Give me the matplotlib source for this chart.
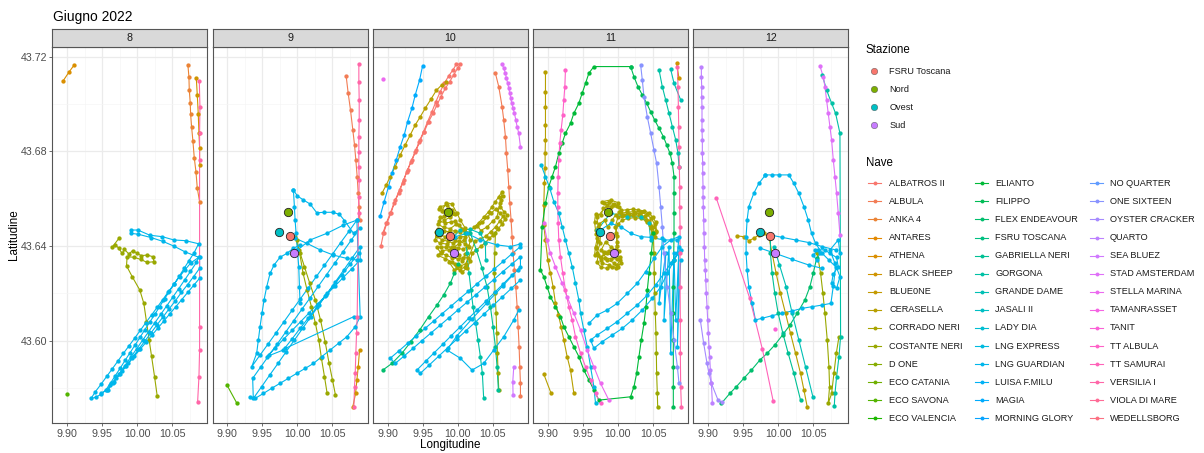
import numpy as np
import matplotlib.pyplot as plt

plt.rcParams['font.family'] = ['Liberation Sans', 'DejaVu Sans']

ships = ["ALBATROS II", "ALBULA", "ANKA 4", "ANTARES", "ATHENA", "BLACK SHEEP",
         "BLUE0NE", "CERASELLA", "CORRADO NERI", "COSTANTE NERI", "D ONE",
         "ECO CATANIA", "ECO SAVONA", "ECO VALENCIA", "ELIANTO", "FILIPPO",
         "FLEX ENDEAVOUR", "FSRU TOSCANA", "GABRIELLA NERI", "GORGONA",
         "GRANDE DAME", "JASALI II", "LADY DIA", "LNG EXPRESS", "LNG GUARDIAN",
         "LUISA F.MILU", "MAGIA", "MORNING GLORY", "NO QUARTER", "ONE SIXTEEN",
         "OYSTER CRACKER", "QUARTO", "SEA BLUEZ", "STAD AMSTERDAM",
         "STELLA MARINA", "TAMANRASSET", "TANIT", "TT ALBULA", "TT SAMURAI",
         "VERSILIA I", "VIOLA DI MARE", "WEDELLSBORG"]

stations = ["FSRU Toscana", "Nord", "Ovest", "Sud"]
station_lon = [9.9890, 9.9865, 9.9740, 9.9950]
station_lat = [43.6443, 43.6542, 43.6457, 43.6368]

days = [8, 9, 10, 11, 12]

# ---------------- day 8 ----------------
p8_athena = [(9.8943, 43.7097), (9.9024, 43.7133), (9.9105, 43.7166)]
p8_anka = [(10.0724, 43.7163), (10.0738, 43.7114), (10.0743, 43.7059), (10.0757, 43.7003),
           (10.0762, 43.6958), (10.0776, 43.6903), (10.0795, 43.6843), (10.0814, 43.6773),
           (10.0838, 43.6714), (10.0857, 43.6645), (10.0890, 43.6587)]
p8_blacksheep = [(10.0843, 43.7110), (10.0857, 43.7039), (10.0871, 43.6958), (10.0881, 43.6876),
                 (10.0890, 43.6815), (10.0890, 43.6743)]
p8_versilia = [(10.0886, 43.7097), (10.0895, 43.6989), (10.0890, 43.6876), (10.0890, 43.6763),
               (10.0890, 43.6058), (10.0890, 43.5960), (10.0881, 43.5847), (10.0862, 43.5741)]
p8_costante = [(9.9748, 43.6435), (9.9643, 43.6394), (9.9690, 43.6404), (9.9738, 43.6390),
               (9.9786, 43.6368), (9.9819, 43.6385), (9.9881, 43.6366), (9.9938, 43.6380),
               (10.0000, 43.6368), (10.0057, 43.6359), (10.0143, 43.6361), (10.0229, 43.6354),
               (10.0238, 43.6333), (10.0143, 43.6330), (10.0048, 43.6343), (9.9952, 43.6352),
               (9.9857, 43.6354), (9.9848, 43.6316), (9.9929, 43.6270), (10.0038, 43.6213),
               (10.0095, 43.6157), (10.0133, 43.6079), (10.0171, 43.6002), (10.0205, 43.5934),
               (10.0248, 43.5847), (10.0286, 43.5765)]
p8_ecosavona = [(9.9000, 43.5772)]
p8_lng_a = [(9.9914, 43.6467), (10.0010, 43.6467), (10.0181, 43.6445), (10.0357, 43.6439),
            (10.0524, 43.6425), (10.0690, 43.6422), (10.0876, 43.6409),
            (10.0810, 43.6370), (10.0740, 43.6338), (10.0670, 43.6305), (10.0600, 43.6272),
            (10.0530, 43.6240), (10.0460, 43.6208), (10.0390, 43.6176), (10.0320, 43.6143),
            (10.0250, 43.6110), (10.0180, 43.6078), (10.0110, 43.6046), (10.0040, 43.6013),
            (9.9970, 43.5981), (9.9900, 43.5949), (9.9830, 43.5917), (9.9760, 43.5884),
            (9.9690, 43.5852), (9.9620, 43.5820), (9.9550, 43.5790), (9.9480, 43.5772),
            (9.9410, 43.5760), (9.9343, 43.5755),
            (9.9405, 43.5784), (9.9485, 43.5815), (9.9565, 43.5848), (9.9645, 43.5880),
            (9.9725, 43.5913), (9.9805, 43.5946), (9.9885, 43.5978), (9.9965, 43.6010),
            (10.0045, 43.6043), (10.0125, 43.6076), (10.0205, 43.6108), (10.0285, 43.6140),
            (10.0365, 43.6173), (10.0445, 43.6206), (10.0525, 43.6238), (10.0605, 43.6270),
            (10.0685, 43.6300), (10.0765, 43.6328), (10.0890, 43.6354),
            (10.0890, 43.6305), (10.0805, 43.6270), (10.0718, 43.6236), (10.0630, 43.6203),
            (10.0545, 43.6168), (10.0456, 43.6134), (10.0370, 43.6100), (10.0282, 43.6066),
            (10.0195, 43.6031), (10.0108, 43.5997), (10.0020, 43.5963), (9.9933, 43.5928),
            (9.9845, 43.5894), (9.9758, 43.5860), (9.9670, 43.5825), (9.9581, 43.5791),
            (9.9619, 43.5812), (9.9705, 43.5843), (9.9790, 43.5872), (9.9873, 43.5903),
            (9.9958, 43.5933), (10.0043, 43.5963), (10.0128, 43.5993), (10.0212, 43.6023),
            (10.0297, 43.6053), (10.0382, 43.6083), (10.0466, 43.6113), (10.0551, 43.6143),
            (10.0636, 43.6173), (10.0720, 43.6203), (10.0805, 43.6233), (10.0890, 43.6263)]
p8_lng_b = [(9.9914, 43.6453), (10.0019, 43.6449), (10.0200, 43.6435), (10.0367, 43.6419),
            (10.0524, 43.6399), (10.0681, 43.6375), (10.0876, 43.6352),
            (10.0845, 43.6330), (10.0760, 43.6292), (10.0675, 43.6255), (10.0590, 43.6218),
            (10.0505, 43.6182), (10.0420, 43.6146), (10.0335, 43.6110), (10.0250, 43.6074),
            (10.0165, 43.6038), (10.0080, 43.6002), (9.9995, 43.5966), (9.9910, 43.5930),
            (9.9825, 43.5894), (9.9740, 43.5858), (9.9655, 43.5822), (9.9570, 43.5790),
            (9.9490, 43.5778)]

# ---------------- day 9 ----------------
p9_albula = [(10.0695, 43.7118), (10.0724, 43.7045), (10.0757, 43.6974), (10.0790, 43.6890),
             (10.0814, 43.6827), (10.0833, 43.6763), (10.0852, 43.6693), (10.0867, 43.6622),
             (10.0881, 43.6566), (10.0890, 43.6509)]
p9_versilia = [(10.0876, 43.7168), (10.0876, 43.7094), (10.0881, 43.7017), (10.0881, 43.6932),
               (10.0876, 43.6862), (10.0876, 43.6798), (10.0876, 43.6735), (10.0881, 43.6678),
               (10.0876, 43.6608), (10.0871, 43.6538), (10.0852, 43.6101), (10.0843, 43.6030),
               (10.0833, 43.5946), (10.0824, 43.5861), (10.0814, 43.5805), (10.0805, 43.5720)]
p9_blacksheep = [(10.0886, 43.5960), (10.0867, 43.5889), (10.0848, 43.5833), (10.0829, 43.5776),
                 (10.0790, 43.5720)]
p9_costante_a = [(9.9971, 43.6439), (10.0033, 43.6368), (10.0081, 43.6284), (10.0138, 43.6213),
                 (10.0200, 43.6143), (10.0257, 43.6072), (10.0305, 43.6002), (10.0343, 43.5924),
                 (10.0386, 43.5847), (10.0424, 43.5776)]
p9_costante_b = [(10.0543, 43.5769), (10.0500, 43.5833), (10.0452, 43.5903), (10.0395, 43.5995),
                 (10.0329, 43.6087), (10.0257, 43.6171), (10.0176, 43.6242), (10.0100, 43.6312),
                 (10.0024, 43.6383), (9.9995, 43.6425)]
p9_ecosavona = [(9.8995, 43.5812), (9.9138, 43.5734)]
p9_lng_a = [(9.9943, 43.6636), (10.0000, 43.6611), (10.0086, 43.6594), (10.0181, 43.6577),
            (10.0276, 43.6540), (10.0381, 43.6542), (10.0505, 43.6542), (10.0600, 43.6533),
            (10.0671, 43.6507), (10.0800, 43.6453),
            (10.0886, 43.6474), (10.0769, 43.6425), (10.0652, 43.6376), (10.0534, 43.6328),
            (10.0417, 43.6279), (10.0300, 43.6230), (10.0183, 43.6181), (10.0066, 43.6133),
            (9.9948, 43.6084), (9.9831, 43.6035), (9.9714, 43.5986), (9.9597, 43.5938),
            (9.9479, 43.5889), (9.9362, 43.5840),
            (9.9371, 43.5755), (9.9488, 43.5804), (9.9605, 43.5854), (9.9723, 43.5903),
            (9.9840, 43.5953), (9.9957, 43.6002), (10.0074, 43.6051), (10.0192, 43.6101),
            (10.0309, 43.6150), (10.0426, 43.6200), (10.0543, 43.6249), (10.0661, 43.6298),
            (10.0778, 43.6348), (10.0895, 43.6397),
            (10.0895, 43.6340), (10.0774, 43.6303), (10.0653, 43.6266), (10.0531, 43.6229),
            (10.0410, 43.6192), (10.0289, 43.6155), (10.0168, 43.6117), (10.0047, 43.6080),
            (9.9926, 43.6043), (9.9804, 43.6006), (9.9683, 43.5969), (9.9562, 43.5932),
            (9.9800, 43.5960), (9.9919, 43.6005), (10.0038, 43.6051), (10.0157, 43.6096),
            (10.0276, 43.6141), (10.0395, 43.6187), (10.0514, 43.6232), (10.0633, 43.6277),
            (10.0752, 43.6323), (10.0871, 43.6368)]
p9_lng_b = [(9.9943, 43.6636), (9.9957, 43.6566), (9.9967, 43.6509), (9.9981, 43.6453),
            (10.0000, 43.6383), (10.0019, 43.6312), (10.0029, 43.6227), (10.0038, 43.6157)]
p9_lng_c = [(10.0038, 43.6404), (9.9943, 43.6390), (9.9848, 43.6368), (9.9752, 43.6352),
            (9.9667, 43.6319), (9.9610, 43.6284), (9.9562, 43.6227), (9.9524, 43.6171),
            (9.9495, 43.6115), (9.9467, 43.6058), (9.9443, 43.6002), (9.9419, 43.5946),
            (9.9348, 43.5889), (9.9463, 43.5937), (9.9579, 43.5984), (9.9694, 43.6032),
            (9.9810, 43.6080), (9.9925, 43.6128), (10.0040, 43.6175), (10.0156, 43.6223),
            (10.0271, 43.6271), (10.0386, 43.6318), (10.0502, 43.6366), (10.0617, 43.6414),
            (10.0733, 43.6461), (10.0848, 43.6509),
            (10.0895, 43.6101), (10.0824, 43.6058), (10.0705, 43.6016), (10.0586, 43.5988),
            (10.0467, 43.5960), (10.0348, 43.5932), (10.0229, 43.5903), (10.0110, 43.5882),
            (9.9990, 43.5861), (9.9871, 43.5840), (9.9752, 43.5819), (9.9633, 43.5798),
            (9.9514, 43.5776), (9.9395, 43.5755), (9.9324, 43.5762)]
p9_lng_d = [(9.9829, 43.5967), (10.0805, 43.6101)]
p9_lng_e = [(9.9967, 43.6432), (10.0133, 43.6411), (10.0324, 43.6383), (10.0514, 43.6361),
            (10.0705, 43.6347), (10.0848, 43.6340)]
p9_lng_f = [(10.0000, 43.6383), (10.0181, 43.6425), (10.0419, 43.6453), (10.0657, 43.6488),
            (10.0848, 43.6509)]

# ---------------- day 10 ----------------
p10_stad = [(10.0633, 43.7168), (10.0657, 43.7151), (10.0681, 43.7130), (10.0695, 43.7108),
            (10.0714, 43.7087), (10.0729, 43.7066), (10.0743, 43.7045), (10.0757, 43.7024),
            (10.0771, 43.7003), (10.0790, 43.6982), (10.0810, 43.6960), (10.0829, 43.6932),
            (10.0848, 43.6904), (10.0871, 43.6876), (10.0895, 43.6819)]
p10_stella = [(9.8933, 43.7104)]
p10_seabluez = [(10.0800, 43.5889), (10.0786, 43.5826), (10.0790, 43.5769)]
p10_magia = [(9.8895, 43.6526), (9.8952, 43.6587), (9.9014, 43.6650), (9.9062, 43.6707),
             (9.9124, 43.6763), (9.9181, 43.6819), (9.9238, 43.6869), (9.9286, 43.6925),
             (9.9348, 43.6982), (9.9395, 43.7038), (9.9457, 43.7101), (9.9500, 43.7161)]
p10_cerasella = [(9.8919, 43.6622), (9.8981, 43.6657), (9.9038, 43.6693), (9.9110, 43.6735),
                 (9.9181, 43.6784), (9.9252, 43.6827), (9.9324, 43.6869), (9.9395, 43.6911),
                 (9.9467, 43.6946), (9.9538, 43.6982), (9.9619, 43.7020), (9.9695, 43.7057),
                 (9.9771, 43.7080), (9.9838, 43.7094)]
p10_albatros = [(9.8905, 43.6399), (9.8943, 43.6453), (9.8990, 43.6495), (9.9048, 43.6538),
                (9.9095, 43.6580), (9.9157, 43.6622), (9.9214, 43.6664), (9.9276, 43.6714),
                (9.9333, 43.6756), (9.9395, 43.6798), (9.9452, 43.6841), (9.9514, 43.6883),
                (9.9571, 43.6925), (9.9633, 43.6967), (9.9690, 43.7010), (9.9752, 43.7052),
                (9.9810, 43.7087), (9.9871, 43.7118), (9.9933, 43.7144), (9.9981, 43.7168),
                (10.0038, 43.7168), (10.0000, 43.7151), (9.9943, 43.7123), (9.9886, 43.7094),
                (9.9824, 43.7066), (9.9762, 43.7031), (9.9705, 43.6996), (9.9648, 43.6960),
                (9.9586, 43.6925), (9.9524, 43.6883), (9.9467, 43.6848), (9.9410, 43.6805),
                (9.9348, 43.6763), (9.9286, 43.6721), (9.9229, 43.6679), (9.9171, 43.6636),
                (9.9110, 43.6594), (9.9038, 43.6538), (9.8981, 43.6495), (9.8933, 43.6453)]
p10_albula = [(10.0538, 43.7130), (10.0586, 43.7073), (10.0633, 43.6989), (10.0657, 43.6932),
              (10.0681, 43.6862), (10.0695, 43.6791), (10.0714, 43.6721), (10.0729, 43.6650),
              (10.0743, 43.6580), (10.0762, 43.6509), (10.0776, 43.6439), (10.0790, 43.6368),
              (10.0810, 43.6298), (10.0829, 43.6227), (10.0848, 43.6143), (10.0862, 43.6058),
              (10.0876, 43.5974), (10.0886, 43.5889), (10.0895, 43.5819), (10.0895, 43.5765)]
p10_corrado = [(9.9752, 43.6566), (9.9848, 43.6573), (9.9919, 43.6552), (9.9967, 43.6535),
               (9.9895, 43.6521), (9.9810, 43.6509), (9.9752, 43.6523), (9.9719, 43.6492),
               (9.9800, 43.6478), (9.9895, 43.6473), (9.9981, 43.6492), (10.0062, 43.6473),
               (10.0133, 43.6453), (10.0086, 43.6425), (10.0014, 43.6408), (9.9943, 43.6394),
               (9.9871, 43.6383), (9.9776, 43.6380), (9.9719, 43.6360), (9.9824, 43.6346),
               (9.9919, 43.6332), (9.9990, 43.6309), (10.0062, 43.6290), (10.0133, 43.6305),
               (10.0181, 43.6337), (10.0205, 43.6368), (10.0267, 43.6383), (10.0333, 43.6399),
               (10.0395, 43.6414), (10.0452, 43.6432), (10.0505, 43.6446), (10.0571, 43.6470),
               (10.0633, 43.6492), (10.0681, 43.6515), (10.0705, 43.6531), (10.0657, 43.6545),
               (10.0610, 43.6566), (10.0619, 43.6594), (10.0633, 43.6629), (10.0586, 43.6608),
               (10.0538, 43.6587), (10.0490, 43.6566), (10.0443, 43.6545), (10.0371, 43.6521),
               (10.0300, 43.6498), (10.0229, 43.6478), (10.0162, 43.6456), (10.0105, 43.6439),
               (10.0038, 43.6439), (9.9967, 43.6425), (9.9895, 43.6432), (9.9824, 43.6439),
               (9.9752, 43.6446), (9.9695, 43.6459), (9.9681, 43.6425), (9.9752, 43.6411),
               (9.9848, 43.6408), (9.9943, 43.6374), (10.0014, 43.6360), (10.0062, 43.6337),
               (10.0110, 43.6365), (10.0157, 43.6394), (10.0181, 43.6425), (10.0110, 43.6474),
               (10.0038, 43.6509), (9.9990, 43.6538), (9.9919, 43.6577), (9.9838, 43.6583),
               (9.9776, 43.6549), (9.9848, 43.6535)]
p10_corrado_b = [(9.9730, 43.6555), (9.9790, 43.6548), (9.9860, 43.6556), (9.9930, 43.6540),
                 (9.9870, 43.6530), (9.9800, 43.6527), (9.9740, 43.6505), (9.9820, 43.6497),
                 (9.9900, 43.6500), (9.9960, 43.6505), (10.0020, 43.6488), (10.0090, 43.6466),
                 (10.0030, 43.6460), (9.9960, 43.6465), (9.9880, 43.6460), (9.9800, 43.6462),
                 (9.9720, 43.6470), (9.9700, 43.6440), (9.9780, 43.6425), (9.9860, 43.6420),
                 (9.9940, 43.6412), (10.0020, 43.6420), (10.0100, 43.6410), (10.0150, 43.6400),
                 (10.0080, 43.6385), (10.0000, 43.6390), (9.9920, 43.6395), (9.9840, 43.6395),
                 (9.9760, 43.6395), (9.9700, 43.6395), (9.9760, 43.6370), (9.9840, 43.6360),
                 (9.9920, 43.6350), (10.0000, 43.6345), (10.0080, 43.6350), (10.0150, 43.6350),
                 (10.0120, 43.6325), (10.0040, 43.6315), (9.9960, 43.6325), (9.9880, 43.6330),
                 (9.9950, 43.6300), (10.0030, 43.6300), (10.0100, 43.6310), (10.0250, 43.6420),
                 (10.0320, 43.6430), (10.0400, 43.6440), (10.0470, 43.6460), (10.0540, 43.6480),
                 (10.0600, 43.6505), (10.0650, 43.6525), (10.0600, 43.6540), (10.0540, 43.6555),
                 (10.0480, 43.6540), (10.0420, 43.6520), (10.0350, 43.6500), (10.0280, 43.6485),
                 (10.0330, 43.6465), (10.0420, 43.6480), (10.0500, 43.6505), (10.0560, 43.6520),
                 (10.0600, 43.6580), (10.0640, 43.6610)]
p10_costante = [(10.0538, 43.6453), (10.0529, 43.6368), (10.0524, 43.6284), (10.0533, 43.6199),
                (10.0548, 43.6115), (10.0557, 43.6030), (10.0567, 43.5946), (10.0576, 43.5861),
                (10.0586, 43.5791)]
p10_flex = [(9.8933, 43.5875), (9.9062, 43.5903), (9.9205, 43.5946), (9.9333, 43.5995),
            (9.9457, 43.6044), (9.9586, 43.6101), (9.9705, 43.6150), (9.9800, 43.6192),
            (9.9895, 43.6242), (9.9952, 43.6284), (10.0000, 43.6325)]
p10_gorgona = [(10.0110, 43.6453), (10.0133, 43.6368), (10.0162, 43.6284), (10.0190, 43.6213),
               (10.0219, 43.6143), (10.0257, 43.6072), (10.0290, 43.6002), (10.0324, 43.5932),
               (10.0352, 43.5861), (10.0371, 43.5755)]
p10_gabriella = [(10.0181, 43.6453), (10.0267, 43.6383), (10.0348, 43.6305), (10.0419, 43.6227),
                 (10.0467, 43.6143), (10.0505, 43.6058), (10.0538, 43.5974), (10.0562, 43.5889),
                 (10.0581, 43.5791)]
p10_grande = [(9.9943, 43.6439), (10.0038, 43.6467), (10.0181, 43.6470), (10.0324, 43.6453),
              (10.0395, 43.6411), (10.0400, 43.6340)]
p10_lng_a = [(9.9967, 43.6439), (10.0133, 43.6453), (10.0324, 43.6425), (10.0562, 43.6404),
             (10.0752, 43.6397), (10.0895, 43.6408),
             (10.0895, 43.6397), (10.0771, 43.6366), (10.0648, 43.6334), (10.0524, 43.6303),
             (10.0400, 43.6271), (10.0276, 43.6240), (10.0153, 43.6208), (10.0029, 43.6177),
             (9.9905, 43.6145), (9.9781, 43.6114), (9.9657, 43.6082), (9.9534, 43.6051),
             (9.9410, 43.6019), (9.9286, 43.5988), (9.9162, 43.5956), (9.9038, 43.5925),
             (9.9110, 43.5903), (9.9238, 43.5935), (9.9365, 43.5967), (9.9493, 43.6000),
             (9.9620, 43.6032), (9.9748, 43.6064), (9.9875, 43.6096), (10.0003, 43.6129),
             (10.0130, 43.6161), (10.0258, 43.6193), (10.0385, 43.6225), (10.0513, 43.6257),
             (10.0640, 43.6290), (10.0768, 43.6322), (10.0895, 43.6354),
             (10.0895, 43.6312), (10.0772, 43.6276), (10.0649, 43.6239), (10.0526, 43.6203),
             (10.0403, 43.6166), (10.0280, 43.6130), (10.0157, 43.6094), (10.0034, 43.6057),
             (9.9911, 43.6021), (9.9788, 43.5984), (9.9665, 43.5948), (9.9542, 43.5912),
             (9.9419, 43.5875),
             (9.9467, 43.5861), (9.9597, 43.5897), (9.9727, 43.5933), (9.9856, 43.5969),
             (9.9986, 43.6005), (10.0116, 43.6041), (10.0246, 43.6076), (10.0376, 43.6112),
             (10.0506, 43.6148), (10.0635, 43.6184), (10.0765, 43.6220), (10.0895, 43.6256)]
p10_lng_b = [(10.0871, 43.6129), (10.0800, 43.6087), (10.0657, 43.6016), (10.0514, 43.5960),
             (10.0371, 43.5903), (10.0205, 43.5875), (10.0038, 43.5925), (9.9848, 43.5960),
             (9.9990, 43.6020), (10.0200, 43.6090), (10.0420, 43.6160), (10.0640, 43.6230),
             (10.0860, 43.6300)]

# ---------------- day 11 ----------------
p11_cerasella_a = [(9.8967, 43.7137), (9.8967, 43.7052), (9.8967, 43.6989), (9.8967, 43.6911),
                   (9.8967, 43.6848), (9.8962, 43.6791), (9.8962, 43.6728), (9.8952, 43.6664),
                   (9.8943, 43.6573), (9.8943, 43.6488), (9.8967, 43.6425), (9.9000, 43.6340),
                   (9.9038, 43.6284), (9.9076, 43.6227), (9.9110, 43.6157), (9.9152, 43.6108),
                   (9.9190, 43.6058), (9.9229, 43.6002), (9.9276, 43.5932), (9.9324, 43.5875),
                   (9.9371, 43.5779)]
p11_cerasella_b = [(9.8943, 43.5858), (9.9048, 43.5776)]
p11_ttalbula = [(9.9252, 43.7144), (9.9243, 43.7073), (9.9229, 43.7017), (9.9214, 43.6953),
                (9.9190, 43.6890), (9.9171, 43.6834), (9.9157, 43.6763), (9.9148, 43.6693),
                (9.9143, 43.6622), (9.9143, 43.6566), (9.9148, 43.6495), (9.9157, 43.6425),
                (9.9181, 43.6354), (9.9214, 43.6284), (9.9252, 43.6213), (9.9300, 43.6143),
                (9.9348, 43.6087), (9.9395, 43.6016), (9.9467, 43.5946), (9.9538, 43.5889),
                (9.9610, 43.5833), (9.9681, 43.5776), (9.9752, 43.5734)]
p11_stella = [(9.8943, 43.6495), (9.8990, 43.6425), (9.9038, 43.6368), (9.9110, 43.6312),
              (9.9205, 43.6242), (9.9276, 43.6185), (9.9371, 43.6115), (9.9467, 43.6044),
              (9.9562, 43.5960), (9.9657, 43.5889), (9.9752, 43.5819), (9.9871, 43.5748)]
p11_lngexpress = [(9.8905, 43.6742), (9.8967, 43.6693), (9.9029, 43.6643), (9.9086, 43.6587),
                  (9.9157, 43.6538), (9.9205, 43.6481), (9.9252, 43.6425), (9.9300, 43.6368),
                  (9.9348, 43.6312), (9.9395, 43.6242), (9.9443, 43.6171), (9.9467, 43.6115),
                  (9.9514, 43.6044), (9.9562, 43.5974), (9.9610, 43.5889), (9.9657, 43.5805),
                  (9.9681, 43.5734)]
p11_elianto = [(10.0181, 43.7158), (9.9657, 43.7158), (9.9586, 43.7130), (9.9538, 43.7087),
               (9.9490, 43.7045), (9.9443, 43.7003), (9.9371, 43.6960), (9.9324, 43.6918),
               (9.9252, 43.6876), (9.9205, 43.6834), (9.9157, 43.6791), (9.9110, 43.6735),
               (9.9062, 43.6693), (9.9014, 43.6650), (9.8967, 43.6580), (9.8919, 43.6481),
               (9.8895, 43.6298), (9.8943, 43.6270), (9.8990, 43.6227), (9.9038, 43.6185),
               (9.9110, 43.6143), (9.9181, 43.6101), (9.9229, 43.6058), (9.9300, 43.6016),
               (9.9371, 43.5974), (9.9443, 43.5932), (9.9514, 43.5875), (9.9586, 43.5833),
               (9.9657, 43.5791), (9.9729, 43.5748), (10.0181, 43.5762), (10.0229, 43.5805),
               (10.0267, 43.5861), (10.0300, 43.5932), (10.0333, 43.6002), (10.0371, 43.6072),
               (10.0400, 43.6143), (10.0419, 43.6213), (10.0443, 43.6284), (10.0476, 43.6368),
               (10.0505, 43.6453)]
p11_filippo = [(10.0181, 43.7158), (10.0229, 43.7115), (10.0286, 43.7073), (10.0348, 43.7038),
               (10.0410, 43.7003), (10.0467, 43.6967), (10.0524, 43.6932), (10.0586, 43.6897),
               (10.0648, 43.6862), (10.0695, 43.6827), (10.0743, 43.6791), (10.0776, 43.6749),
               (10.0800, 43.6693), (10.0800, 43.6622), (10.0800, 43.6538), (10.0800, 43.6453),
               (10.0795, 43.6340), (10.0790, 43.6227), (10.0790, 43.6115), (10.0790, 43.6002),
               (10.0790, 43.5889), (10.0790, 43.5805), (10.0790, 43.5720)]
p11_onesixteen = [(10.0324, 43.7165), (10.0348, 43.7101), (10.0371, 43.7031), (10.0419, 43.6946),
                  (10.0467, 43.6876), (10.0514, 43.6805), (10.0552, 43.6749), (10.0586, 43.6650),
                  (10.0610, 43.6566), (10.0633, 43.6481), (10.0657, 43.6368), (10.0705, 43.6227),
                  (10.0752, 43.6115), (10.0800, 43.6002), (10.0848, 43.5889), (10.0871, 43.5819)]
p11_gorgona = [(10.0586, 43.7144), (10.0633, 43.7073), (10.0681, 43.7017), (10.0729, 43.6960),
               (10.0776, 43.6904), (10.0824, 43.6848), (10.0857, 43.6791), (10.0871, 43.6735)]
p11_grande = [(10.0752, 43.7147), (10.0800, 43.7087), (10.0895, 43.7017)]
p11_jasali = [(9.9705, 43.6467), (9.9895, 43.6538), (10.0133, 43.6523), (10.0324, 43.6523),
              (10.0443, 43.6495), (10.0467, 43.6425)]
p11_blacksheep = [(10.0838, 43.7172), (10.0871, 43.7108)]
p11_costante = [(10.0505, 43.6453), (10.0514, 43.6368), (10.0519, 43.6284), (10.0524, 43.6199),
                (10.0533, 43.6115), (10.0543, 43.6030), (10.0548, 43.5946), (10.0552, 43.5861),
                (10.0562, 43.5776), (10.0567, 43.5720)]
p11_versilia = [(10.0848, 43.7158), (10.0857, 43.7073), (10.0862, 43.6989), (10.0867, 43.6904),
                (10.0871, 43.6819), (10.0876, 43.6735), (10.0881, 43.6650), (10.0881, 43.6566),
                (10.0886, 43.6481), (10.0886, 43.6368), (10.0886, 43.6227), (10.0890, 43.6087),
                (10.0890, 43.5946), (10.0895, 43.5805), (10.0905, 43.5720)]
p11_corrado = [(9.9776, 43.6587), (9.9895, 43.6594), (10.0000, 43.6583), (10.0014, 43.6563),
               (9.9895, 43.6566), (9.9790, 43.6559), (9.9762, 43.6531), (9.9681, 43.6535),
               (9.9667, 43.6502), (9.9681, 43.6467), (9.9705, 43.6432), (9.9681, 43.6397),
               (9.9667, 43.6361), (9.9752, 43.6352), (9.9848, 43.6368), (9.9943, 43.6357),
               (10.0029, 43.6352), (10.0038, 43.6326), (9.9967, 43.6305), (9.9871, 43.6319),
               (9.9776, 43.6326), (9.9705, 43.6368), (9.9743, 43.6411), (9.9752, 43.6453),
               (9.9729, 43.6492), (9.9810, 43.6509), (9.9857, 43.6478), (9.9919, 43.6509),
               (9.9967, 43.6531), (10.0038, 43.6538), (10.0133, 43.6542), (10.0229, 43.6545),
               (10.0324, 43.6542), (10.0410, 43.6533), (10.0476, 43.6516), (10.0524, 43.6492),
               (10.0543, 43.6464), (10.0524, 43.6439), (10.0476, 43.6474), (10.0419, 43.6502),
               (10.0333, 43.6516), (10.0238, 43.6519), (10.0143, 43.6516), (10.0062, 43.6509),
               (10.0000, 43.6492), (9.9967, 43.6453), (9.9990, 43.6418), (9.9967, 43.6383),
               (9.9895, 43.6397), (9.9824, 43.6418), (9.9762, 43.6383), (9.9848, 43.6340),
               (9.9943, 43.6329), (10.0000, 43.6312)]
p11_corrado_b = [(9.9800, 43.6580), (9.9870, 43.6585), (9.9950, 43.6578), (9.9990, 43.6570),
                 (9.9930, 43.6572), (9.9850, 43.6574), (9.9700, 43.6520), (9.9720, 43.6480),
                 (9.9690, 43.6450), (9.9720, 43.6420), (9.9690, 43.6390), (9.9720, 43.6360),
                 (9.9700, 43.6330), (9.9760, 43.6310), (9.9840, 43.6305), (9.9920, 43.6310),
                 (9.9990, 43.6320), (10.0030, 43.6340), (9.9980, 43.6345), (9.9900, 43.6345),
                 (9.9820, 43.6350), (9.9760, 43.6340), (9.9800, 43.6375), (9.9880, 43.6380),
                 (9.9950, 43.6370), (10.0010, 43.6380), (9.9980, 43.6400), (9.9990, 43.6440),
                 (9.9960, 43.6480), (10.0000, 43.6520), (10.0060, 43.6525), (10.0140, 43.6528),
                 (10.0220, 43.6530), (10.0300, 43.6530), (10.0380, 43.6525), (10.0450, 43.6505),
                 (10.0500, 43.6480), (10.0520, 43.6450), (10.0490, 43.6445), (10.0460, 43.6490),
                 (10.0400, 43.6510), (10.0320, 43.6535), (10.0240, 43.6540), (10.0160, 43.6535),
                 (10.0080, 43.6530), (10.0010, 43.6545), (10.0050, 43.6550), (10.0130, 43.6553),
                 (10.0210, 43.6555), (10.0290, 43.6552), (10.0370, 43.6548), (10.0440, 43.6540),
                 (10.0500, 43.6520), (10.0540, 43.6500), (10.0550, 43.6460)]
p11_lng_a = [(9.9752, 43.6467), (9.9895, 43.6495), (10.0038, 43.6481), (10.0181, 43.6453),
             (10.0324, 43.6439), (10.0467, 43.6436), (10.0657, 43.6425), (10.0848, 43.6425)]
p11_lng_b = [(9.9586, 43.6072), (9.9705, 43.6108), (9.9848, 43.6129), (9.9990, 43.6157),
             (10.0133, 43.6199), (10.0276, 43.6242), (10.0395, 43.6291), (10.0514, 43.6347),
             (10.0633, 43.6397), (10.0752, 43.6425), (10.0871, 43.6439),
             (10.0848, 43.6368), (10.0752, 43.6326), (10.0657, 43.6284), (10.0538, 43.6235),
             (10.0419, 43.6192), (10.0276, 43.6150), (10.0133, 43.6115), (9.9990, 43.6080),
             (9.9848, 43.6051), (9.9705, 43.6023), (9.9610, 43.6002),
             (9.9657, 43.5967), (9.9776, 43.5995), (9.9919, 43.6023), (10.0062, 43.6051),
             (10.0205, 43.6087), (10.0348, 43.6129), (10.0490, 43.6178), (10.0610, 43.6227),
             (10.0705, 43.6284), (10.0800, 43.6340), (10.0895, 43.6383)]
p11_lng_c = [(10.0633, 43.6432), (10.0586, 43.6157), (10.0681, 43.6368), (10.0657, 43.6087),
             (10.0729, 43.6397), (10.0752, 43.5946), (10.0800, 43.6368), (10.0824, 43.6087),
             (10.0871, 43.6397), (10.0848, 43.5974), (10.0895, 43.6340)]

# ---------------- day 12 ----------------
p12_quarto = [(9.8905, 43.7158), (9.8905, 43.7115), (9.8910, 43.7073), (9.8910, 43.7031),
              (9.8914, 43.6989), (9.8914, 43.6932), (9.8914, 43.6890), (9.8919, 43.6848),
              (9.8919, 43.6791), (9.8924, 43.6749), (9.8924, 43.6707), (9.8929, 43.6650),
              (9.8929, 43.6608), (9.8933, 43.6566), (9.8938, 43.6509), (9.8943, 43.6453),
              (9.8948, 43.6397), (9.8952, 43.6340), (9.8962, 43.6298), (9.8967, 43.6256),
              (9.8976, 43.6199), (9.8986, 43.6143), (9.8995, 43.6087), (9.9005, 43.6030),
              (9.9014, 43.5974), (9.9024, 43.5932), (9.9033, 43.5875), (9.9048, 43.5819),
              (9.9062, 43.5734)]
p12_oyster = [(9.8890, 43.6087), (9.8938, 43.5988), (9.8986, 43.5903), (9.9014, 43.5861),
              (9.9048, 43.5819), (9.9143, 43.5748), (9.9200, 43.5738)]
p12_flex = [(9.9190, 43.5734), (9.9310, 43.5776), (9.9405, 43.5805), (9.9510, 43.5840),
            (9.9619, 43.5875), (9.9738, 43.5917), (9.9843, 43.5946), (9.9952, 43.5981),
            (10.0062, 43.6023), (10.0167, 43.6065), (10.0271, 43.6115), (10.0381, 43.6171),
            (10.0452, 43.6227), (10.0500, 43.6284), (10.0548, 43.6347)]
p12_samurai = [(9.9119, 43.6601), (9.9319, 43.6425), (9.9595, 43.6178), (9.9776, 43.5962),
               (9.9929, 43.5744)]
p12_tanit = [(9.9952, 43.6049)]
p12_stad = [(10.0595, 43.7161), (10.0643, 43.7115), (10.0667, 43.7073), (10.0690, 43.7017),
            (10.0714, 43.6960), (10.0738, 43.6904), (10.0762, 43.6848), (10.0786, 43.6763),
            (10.0810, 43.6693), (10.0833, 43.6622), (10.0857, 43.6538), (10.0881, 43.6446)]
p12_gorgona = [(10.0629, 43.7122), (10.0690, 43.7059), (10.0762, 43.7003), (10.0819, 43.6960),
               (10.0881, 43.6876), (10.0890, 43.6016), (10.0867, 43.5932), (10.0833, 43.5847),
               (10.0810, 43.5776), (10.0800, 43.5723)]
p12_lng_a = [(9.9819, 43.6700), (9.9914, 43.6700), (10.0010, 43.6700), (10.0152, 43.6700),
             (10.0224, 43.6664), (10.0295, 43.6622), (10.0367, 43.6566), (10.0429, 43.6509),
             (10.0476, 43.6453), (10.0533, 43.6411), (10.0629, 43.6368), (10.0724, 43.6340),
             (10.0819, 43.6312), (10.0786, 43.6230), (10.0752, 43.6157), (10.0629, 43.6150),
             (10.0486, 43.6143), (10.0343, 43.6136), (10.0200, 43.6125), (10.0057, 43.6115),
             (9.9914, 43.6105), (9.9771, 43.6094), (9.9676, 43.6087), (9.9629, 43.6157),
             (9.9581, 43.6227), (9.9557, 43.6298), (9.9543, 43.6368), (9.9543, 43.6439),
             (9.9557, 43.6509), (9.9581, 43.6566), (9.9652, 43.6622), (9.9724, 43.6664),
             (9.9819, 43.6700)]
p12_lng_b = [(9.9890, 43.6446), (10.0057, 43.6436), (10.0248, 43.6425), (10.0438, 43.6414),
             (10.0629, 43.6397), (10.0819, 43.6383)]
p12_lng_c = [(9.9748, 43.6390), (9.9962, 43.6368), (10.0200, 43.6343), (10.0438, 43.6319),
             (10.0629, 43.6305)]
p12_lng_d = [(10.0524, 43.6383), (10.0595, 43.6368), (10.0548, 43.6340), (10.0500, 43.6361),
             (10.0571, 43.6383), (10.0667, 43.6383), (10.0738, 43.6368), (10.0833, 43.6351),
             (10.0857, 43.6312), (10.0786, 43.6281), (10.0762, 43.6242), (10.0833, 43.6220),
             (10.0881, 43.6270), (10.0810, 43.6326), (10.0738, 43.6383), (10.0857, 43.6425),
             (10.0881, 43.6368)]
p12_cerasella = [(9.9414, 43.6442), (9.9510, 43.6439), (9.9581, 43.6422), (9.9652, 43.6432),
                 (9.9724, 43.6446), (9.9795, 43.6453), (9.9867, 43.6439), (9.9914, 43.6368),
                 (9.9971, 43.6284), (10.0033, 43.6199), (10.0105, 43.6115), (10.0176, 43.6030),
                 (10.0248, 43.5946), (10.0319, 43.5861), (10.0367, 43.5791), (10.0414, 43.5720)]
p12_costante = [(10.0557, 43.6368), (10.0605, 43.6284), (10.0638, 43.6199), (10.0667, 43.6115),
                (10.0700, 43.6002), (10.0724, 43.5889), (10.0733, 43.5805), (10.0714, 43.5734),
                (10.0762, 43.5776), (10.0795, 43.5861), (10.0829, 43.5946), (10.0867, 43.6016)]
p12_gabriella = [(9.9890, 43.6439), (9.9890, 43.6368), (9.9914, 43.6284), (9.9952, 43.6199),
                 (10.0000, 43.6115), (10.0067, 43.6030), (10.0143, 43.5946), (10.0224, 43.5861),
                 (10.0319, 43.5748)]
p12_grande = [(9.9938, 43.6397), (10.0019, 43.6319), (10.0114, 43.6227), (10.0200, 43.6115),
              (10.0295, 43.6002), (10.0390, 43.5889), (10.0495, 43.5762)]

tracks = [
    (8, "ATHENA", p8_athena), (8, "ANKA 4", p8_anka), (8, "BLACK SHEEP", p8_blacksheep),
    (8, "VERSILIA I", p8_versilia), (8, "COSTANTE NERI", p8_costante),
    (8, "ECO SAVONA", p8_ecosavona), (8, "LNG GUARDIAN", p8_lng_a), (8, "LNG GUARDIAN", p8_lng_b),
    (9, "ALBULA", p9_albula), (9, "VERSILIA I", p9_versilia), (9, "BLACK SHEEP", p9_blacksheep),
    (9, "COSTANTE NERI", p9_costante_a), (9, "COSTANTE NERI", p9_costante_b),
    (9, "ECO SAVONA", p9_ecosavona), (9, "LNG GUARDIAN", p9_lng_a), (9, "LNG GUARDIAN", p9_lng_b),
    (9, "LNG GUARDIAN", p9_lng_c), (9, "LNG GUARDIAN", p9_lng_d), (9, "LNG GUARDIAN", p9_lng_e),
    (9, "LNG GUARDIAN", p9_lng_f),
    (10, "STAD AMSTERDAM", p10_stad), (10, "STELLA MARINA", p10_stella),
    (10, "SEA BLUEZ", p10_seabluez), (10, "MAGIA", p10_magia), (10, "CERASELLA", p10_cerasella),
    (10, "ALBATROS II", p10_albatros), (10, "ALBULA", p10_albula),
    (10, "CORRADO NERI", p10_corrado), (10, "CORRADO NERI", p10_corrado_b),
    (10, "COSTANTE NERI", p10_costante),
    (10, "FLEX ENDEAVOUR", p10_flex), (10, "GORGONA", p10_gorgona),
    (10, "GABRIELLA NERI", p10_gabriella), (10, "GRANDE DAME", p10_grande),
    (10, "LNG GUARDIAN", p10_lng_a), (10, "LNG GUARDIAN", p10_lng_b),
    (11, "CERASELLA", p11_cerasella_a), (11, "CERASELLA", p11_cerasella_b),
    (11, "TT ALBULA", p11_ttalbula), (11, "STELLA MARINA", p11_stella),
    (11, "LNG EXPRESS", p11_lngexpress), (11, "ELIANTO", p11_elianto),
    (11, "FILIPPO", p11_filippo), (11, "ONE SIXTEEN", p11_onesixteen),
    (11, "GORGONA", p11_gorgona), (11, "GRANDE DAME", p11_grande), (11, "JASALI II", p11_jasali),
    (11, "BLACK SHEEP", p11_blacksheep), (11, "COSTANTE NERI", p11_costante),
    (11, "VERSILIA I", p11_versilia), (11, "CORRADO NERI", p11_corrado),
    (11, "CORRADO NERI", p11_corrado_b),
    (11, "LNG GUARDIAN", p11_lng_a), (11, "LNG GUARDIAN", p11_lng_b),
    (11, "LNG GUARDIAN", p11_lng_c),
    (12, "QUARTO", p12_quarto), (12, "OYSTER CRACKER", p12_oyster),
    (12, "FLEX ENDEAVOUR", p12_flex), (12, "TT SAMURAI", p12_samurai), (12, "TANIT", p12_tanit),
    (12, "STAD AMSTERDAM", p12_stad), (12, "GORGONA", p12_gorgona),
    (12, "LNG GUARDIAN", p12_lng_a), (12, "LNG GUARDIAN", p12_lng_b),
    (12, "LNG GUARDIAN", p12_lng_c), (12, "LNG GUARDIAN", p12_lng_d),
    (12, "CERASELLA", p12_cerasella), (12, "COSTANTE NERI", p12_costante),
    (12, "GABRIELLA NERI", p12_gabriella), (12, "GRANDE DAME", p12_grande),
]


def hcl_hex(h, c=100.0, l=65.0):
    # polar LUV -> sRGB, as ggplot's default hue palette
    xn, yn, zn = 95.047, 100.0, 108.883
    u = c * np.cos(np.deg2rad(h))
    v = c * np.sin(np.deg2rad(h))
    y = yn * ((l + 16) / 116) ** 3
    d = xn + 15 * yn + 3 * zn
    up = u / (13 * l) + 4 * xn / d
    vp = v / (13 * l) + 9 * yn / d
    x = y * 9 * up / (4 * vp)
    z = y * (12 - 3 * up - 20 * vp) / (4 * vp)
    m = np.array([[3.2404542, -1.5371385, -0.4985314],
                  [-0.9692660, 1.8760108, 0.0415560],
                  [0.0556434, -0.2040259, 1.0572252]])
    rgb = m @ (np.array([x, y, z]) / 100)
    rgb = np.where(rgb <= 0.0031308, 12.92 * rgb, 1.055 * np.abs(rgb) ** (1 / 2.4) - 0.055)
    return tuple(np.clip(rgb, 0, 1))


def hue_pal(n):
    return [hcl_hex(h) for h in np.linspace(15, 375, n + 1)[:-1]]


ship_col = dict(zip(ships, hue_pal(len(ships))))
station_col = dict(zip(stations, hue_pal(len(stations))))

W, H = 1204, 453
fig = plt.figure(figsize=(W / 100, H / 100), dpi=100)
edge = "#555555"
tick_c = "#4D4D4D"

for k, day in enumerate(days):
    left = (52.3 + 160.25 * k) / W
    ax = fig.add_axes([left, (H - 423.3) / H, 155 / W, (423.3 - 46.7) / H])
    ax.set_xlim(9.879, 10.100)
    ax.set_ylim(43.565, 43.7242)
    ax.set_xticks([9.90, 9.95, 10.00, 10.05], ["9.90", "9.95", "10.00", "10.05"])
    ax.set_xticks([9.925, 9.975, 10.025, 10.075], minor=True)
    ax.set_yticks([43.60, 43.64, 43.68, 43.72], ["43.60", "43.64", "43.68", "43.72"])
    ax.set_yticks([43.58, 43.62, 43.66, 43.70], minor=True)
    ax.grid(which="major", color="#EBEBEB", lw=0.9)
    ax.grid(which="minor", color="#F5F5F5", lw=0.5)
    ax.set_axisbelow(True)
    ax.tick_params(which="major", length=2.2, width=0.6, color=edge, pad=2.0,
                   labelsize=7.7, labelcolor=tick_c)
    ax.tick_params(axis="y", pad=1.3)
    ax.tick_params(which="minor", length=0)
    if k > 0:
        ax.tick_params(axis="y", left=False, labelleft=False)
    for s in ax.spines.values():
        s.set_color(edge)
        s.set_linewidth(0.8)

    day_tracks = sorted([t for t in tracks if t[0] == day], key=lambda t: ships.index(t[1]))
    for _, ship, pts in day_tracks:
        lon, lat = zip(*pts)
        ax.plot(lon, lat, "-", color=ship_col[ship], lw=0.8, zorder=2)
    for _, ship, pts in day_tracks:
        lon, lat = zip(*pts)
        ax.plot(lon, lat, "o", color=ship_col[ship], ms=3.1, mec="none", zorder=3)

    if day != 8:
        for name, lo, la in zip(stations, station_lon, station_lat):
            ax.plot(lo, la, "o", ms=6.0, mfc=station_col[name], mec="#222222", mew=0.6, zorder=5)

    sax = fig.add_axes([left, (H - 46.7) / H, 155 / W, 17.4 / H])
    sax.set_facecolor("#D9D9D9")
    sax.set_xticks([])
    sax.set_yticks([])
    for s in sax.spines.values():
        s.set_color(edge)
        s.set_linewidth(0.8)
    sax.text(0.5, 0.5, str(day), ha="center", va="center", fontsize=7.7, color="#1A1A1A")

fig.text(53 / W, 1 - 21 / H, "Giugno 2022", fontsize=9.9, va="baseline", color="black")
fig.text(14 / W, 1 - 235 / H, "Latitudine", rotation=90, fontsize=8.4, ha="center", va="center")
fig.text(450.3 / W, 1 - 445 / H, "Longitudine", fontsize=8.4, ha="center", va="center")

# legend drawn in pixel space
lax = fig.add_axes([0, 0, 1, 1])
lax.patch.set_alpha(0)
lax.axis("off")
lax.set_xlim(0, W)
lax.set_ylim(H, 0)

lax.text(866, 50, "Stazione", fontsize=8.3, va="center", ha="left")
for i, name in enumerate(stations):
    y = 71 + 18 * i
    lax.plot(873.5, y, "o", ms=4.6, mfc=station_col[name], mec="#444444", mew=0.3)
    lax.text(889.3, y, name, fontsize=6.6, va="center", ha="left", color="#1A1A1A")

lax.text(866, 163.3, "Nave", fontsize=8.3, va="center", ha="left")
key_x = [874.5, 981.5, 1096.5]
text_x = [889.3, 995.0, 1110.0]
for i, ship in enumerate(ships):
    col, row = divmod(i, 14)
    y = 183.3 + 18.08 * row
    kx = key_x[col]
    lax.plot([kx - 6.8, kx + 6.8], [y, y], color=ship_col[ship], lw=0.8)
    lax.plot(kx, y, "o", ms=2.8, color=ship_col[ship], mec="none")
    lax.text(text_x[col], y, ship, fontsize=6.6, va="center", ha="left", color="#1A1A1A")

fig.savefig("out.png", dpi=100)
